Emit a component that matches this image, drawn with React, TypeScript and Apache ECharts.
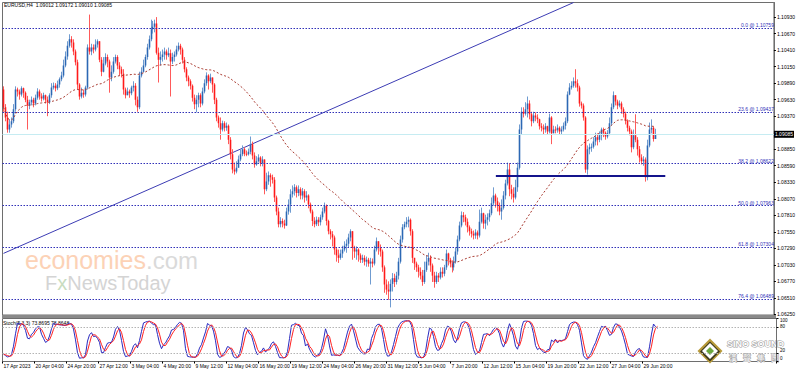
import React, { useEffect, useRef } from 'react';
import * as echarts from 'echarts';

// ---------- data (EURUSD H4) ----------
const firstOpen = 1.0979;
const closes = [
  1.0951, 1.0935, 1.0916, 1.0924, 1.0929, 1.0948, 1.0979, 1.0976, 1.0971, 1.0981,
  1.0974, 1.0963, 1.0954, 1.0959, 1.0963, 1.0957, 1.0966, 1.0976, 1.0968, 1.0965,
  1.0970, 1.0963, 1.0959, 1.0970, 1.0982, 1.0985, 1.0981, 1.0987, 1.0995, 1.1001,
  1.1017, 1.1031, 1.1048, 1.1058, 1.1053, 1.1039, 1.1022, 1.0987, 1.0968, 1.0974,
  1.0971, 1.0982, 1.1045, 1.1039, 1.1045, 1.1042, 1.1050, 1.1055, 1.1026, 1.1007,
  1.1020, 1.1030, 1.1023, 1.0998, 1.1007, 1.1023, 1.1030, 1.1017, 1.1011, 1.1004,
  1.0979, 1.0970, 1.0976, 1.0973, 1.0982, 1.0985, 1.0963, 1.0951, 1.1001, 1.1007,
  1.1017, 1.1030, 1.1045, 1.1058, 1.1074, 1.1078, 1.1083, 1.1037, 1.1026, 1.1030,
  1.1034, 1.1039, 1.1033, 1.1036, 1.1023, 1.1030, 1.1034, 1.1042, 1.1048, 1.1042,
  1.1026, 1.1011, 1.0998, 1.0992, 1.0985, 1.0966, 1.0956, 1.0963, 1.0970, 1.0957,
  1.0976, 1.0989, 1.1001, 1.0992, 1.0998, 1.0987, 1.0963, 1.0935, 1.0926, 1.0916,
  1.0926, 1.0919, 1.0922, 1.0900, 1.0877, 1.0853, 1.0850, 1.0856, 1.0869, 1.0877,
  1.0885, 1.0878, 1.0877, 1.0881, 1.0893, 1.0875, 1.0861, 1.0866, 1.0872, 1.0863,
  1.0869, 1.0822, 1.0834, 1.0844, 1.0841, 1.0837, 1.0809, 1.0787, 1.0767, 1.0772,
  1.0768, 1.0765, 1.0787, 1.0798, 1.0814, 1.0819, 1.0825, 1.0816, 1.0822, 1.0812,
  1.0819, 1.0809, 1.0812, 1.0798, 1.0787, 1.0772, 1.0767, 1.0774, 1.0770, 1.0778,
  1.0787, 1.0796, 1.0772, 1.0756, 1.0751, 1.0746, 1.0727, 1.0718, 1.0714, 1.0721,
  1.0727, 1.0733, 1.0736, 1.0746, 1.0756, 1.0730, 1.0724, 1.0727, 1.0718, 1.0711,
  1.0714, 1.0708, 1.0711, 1.0705, 1.0708, 1.0705, 1.0727, 1.0740, 1.0730, 1.0724,
  1.0699, 1.0672, 1.0664, 1.0661, 1.0673, 1.0682, 1.0676, 1.0686, 1.0708, 1.0743,
  1.0762, 1.0767, 1.0771, 1.0774, 1.0756, 1.0714, 1.0705, 1.0699, 1.0692, 1.0686,
  1.0676, 1.0695, 1.0708, 1.0714, 1.0702, 1.0686, 1.0676, 1.0686, 1.0683, 1.0692,
  1.0689, 1.0699, 1.0721, 1.0711, 1.0705, 1.0699, 1.0708, 1.0724, 1.0743, 1.0765,
  1.0781, 1.0778, 1.0771, 1.0762, 1.0756, 1.0752, 1.0749, 1.0754, 1.0749, 1.0771,
  1.0784, 1.0768, 1.0774, 1.0778, 1.0784, 1.0800, 1.0812, 1.0803, 1.0796, 1.0787,
  1.0793, 1.0812, 1.0831, 1.0853, 1.0822, 1.0815, 1.0809, 1.0825, 1.0856, 1.0916,
  1.0944, 1.0941, 1.0948, 1.0957, 1.0940, 1.0929, 1.0938, 1.0935, 1.0932, 1.0921,
  1.0919, 1.0916, 1.0921, 1.0913, 1.0935, 1.0910, 1.0916, 1.0915, 1.0919, 1.0913,
  1.0916, 1.0922, 1.0929, 1.0971, 1.0982, 1.0985, 1.0992, 1.0989, 1.0982, 1.0957,
  1.0954, 1.0935, 1.0853, 1.0885, 1.0888, 1.0889, 1.0897, 1.0904, 1.0900, 1.0907,
  1.0916, 1.0911, 1.0905, 1.0910, 1.0926, 1.0951, 1.0970, 1.0960, 1.0954, 1.0957,
  1.0948, 1.0941, 1.0930, 1.0919, 1.0913, 1.0888, 1.0907, 1.0900, 1.0885, 1.0872,
  1.0866, 1.0869, 1.0841, 1.0891, 1.0916, 1.0919, 1.09012, 1.09085,
];
const highs = [
  1.0984, 1.0956, 1.0944, 1.0932, 1.0935, 1.0956, 1.0984, 1.0982, 1.0979, 1.0984,
  1.0982, 1.0976, 1.0969, 1.0963, 1.0968, 1.0966, 1.0971, 1.0981, 1.0979, 1.0973,
  1.0974, 1.0971, 1.0968, 1.0973, 1.0989, 1.0990, 1.0989, 1.0993, 1.0998, 1.1007,
  1.1026, 1.1039, 1.1055, 1.1066, 1.1063, 1.1058, 1.1042, 1.1026, 1.0989, 1.0982,
  1.0979, 1.0985, 1.1050, 1.1097, 1.1051, 1.1050, 1.1058, 1.1058, 1.1055, 1.1030,
  1.1030, 1.1036, 1.1034, 1.1026, 1.1017, 1.1030, 1.1034, 1.1033, 1.1022, 1.1015,
  1.1011, 1.0982, 1.0982, 1.0979, 1.0985, 1.0992, 1.0989, 1.0968, 1.1007, 1.1014,
  1.1026, 1.1034, 1.1051, 1.1064, 1.1089, 1.1087, 1.1089, 1.1093, 1.1045, 1.1039,
  1.1042, 1.1045, 1.1042, 1.1045, 1.1042, 1.1037, 1.1039, 1.1048, 1.1053, 1.1051,
  1.1045, 1.1030, 1.1014, 1.1001, 1.0995, 1.0987, 1.0971, 1.0970, 1.0974, 1.0973,
  1.0982, 1.0995, 1.1006, 1.1003, 1.1004, 1.0998, 1.0989, 1.0966, 1.0938, 1.0935,
  1.0930, 1.0929, 1.0927, 1.0924, 1.0904, 1.0885, 1.0864, 1.0866, 1.0875, 1.0885,
  1.0891, 1.0888, 1.0883, 1.0886, 1.0905, 1.0897, 1.0880, 1.0874, 1.0877, 1.0874,
  1.0874, 1.0869, 1.0848, 1.0850, 1.0847, 1.0845, 1.0841, 1.0812, 1.0793, 1.0778,
  1.0776, 1.0774, 1.0793, 1.0806, 1.0822, 1.0828, 1.0830, 1.0828, 1.0828, 1.0825,
  1.0824, 1.0822, 1.0819, 1.0814, 1.0801, 1.0790, 1.0778, 1.0779, 1.0778, 1.0782,
  1.0793, 1.0801, 1.0798, 1.0774, 1.0759, 1.0756, 1.0749, 1.0730, 1.0727, 1.0727,
  1.0733, 1.0740, 1.0743, 1.0752, 1.0759, 1.0756, 1.0733, 1.0732, 1.0729, 1.0721,
  1.0719, 1.0718, 1.0716, 1.0714, 1.0714, 1.0713, 1.0733, 1.0746, 1.0740, 1.0735,
  1.0727, 1.0702, 1.0680, 1.0677, 1.0680, 1.0690, 1.0689, 1.0692, 1.0714, 1.0749,
  1.0767, 1.0771, 1.0778, 1.0779, 1.0776, 1.0759, 1.0714, 1.0708, 1.0703, 1.0699,
  1.0695, 1.0708, 1.0718, 1.0722, 1.0718, 1.0705, 1.0692, 1.0692, 1.0690, 1.0699,
  1.0699, 1.0703, 1.0727, 1.0722, 1.0714, 1.0710, 1.0716, 1.0730, 1.0749, 1.0771,
  1.0787, 1.0786, 1.0782, 1.0776, 1.0765, 1.0760, 1.0757, 1.0759, 1.0757, 1.0790,
  1.0793, 1.0785, 1.0782, 1.0784, 1.0790, 1.0809, 1.0825, 1.0815, 1.0809, 1.0801,
  1.0806, 1.0819, 1.0837, 1.0864, 1.0863, 1.0829, 1.0825, 1.0837, 1.0864, 1.0924,
  1.0951, 1.0951, 1.0959, 1.0968, 1.0962, 1.0944, 1.0944, 1.0943, 1.0940, 1.0933,
  1.0926, 1.0924, 1.0926, 1.0922, 1.0941, 1.0937, 1.0922, 1.0921, 1.0924, 1.0921,
  1.0921, 1.0927, 1.0935, 1.0976, 1.0989, 1.0992, 1.0998, 1.1011, 1.0995, 1.0985,
  1.0960, 1.0957, 1.0937, 1.0891, 1.0894, 1.0894, 1.0904, 1.0911, 1.0910, 1.0913,
  1.0919, 1.0919, 1.0913, 1.0915, 1.0935, 1.0957, 1.0976, 1.0970, 1.0963, 1.0962,
  1.0960, 1.0951, 1.0944, 1.0932, 1.0922, 1.0916, 1.0916, 1.0940, 1.0904, 1.0890,
  1.0877, 1.0874, 1.0872, 1.0900, 1.0927, 1.0932, 1.0921, 1.09172,
];
const lows = [
  1.0944, 1.0929, 1.0911, 1.0911, 1.0919, 1.0926, 1.0944, 1.0968, 1.0963, 1.0968,
  1.0966, 1.0959, 1.0916, 1.0948, 1.0954, 1.0951, 1.0954, 1.0963, 1.0963, 1.0960,
  1.0962, 1.0957, 1.0937, 1.0956, 1.0966, 1.0979, 1.0976, 1.0978, 1.0982, 1.0992,
  1.0998, 1.1014, 1.1026, 1.1045, 1.1045, 1.1033, 1.1017, 1.0979, 1.0963, 1.0965,
  1.0966, 1.0968, 1.0979, 1.1034, 1.1033, 1.1036, 1.1039, 1.1045, 1.1022, 1.1000,
  1.1006, 1.1017, 1.1014, 1.0974, 1.0992, 1.1004, 1.1020, 1.1011, 1.1001, 1.0998,
  1.0971, 1.0965, 1.0970, 1.0966, 1.0970, 1.0976, 1.0954, 1.0944, 1.0948, 1.0998,
  1.1006, 1.1014, 1.1026, 1.1042, 1.1055, 1.1067, 1.1069, 1.1034, 1.0990, 1.1017,
  1.1023, 1.1026, 1.1026, 1.1030, 1.0968, 1.1019, 1.1023, 1.1031, 1.1039, 1.1034,
  1.1020, 1.1006, 1.0992, 1.0984, 1.0979, 1.0960, 1.0948, 1.0943, 1.0951, 1.0951,
  1.0954, 1.0973, 1.0985, 1.0979, 1.0989, 1.0974, 1.0956, 1.0929, 1.0919, 1.0900,
  1.0913, 1.0913, 1.0914, 1.0893, 1.0869, 1.0847, 1.0845, 1.0847, 1.0856, 1.0866,
  1.0874, 1.0874, 1.0874, 1.0875, 1.0877, 1.0869, 1.0856, 1.0859, 1.0864, 1.0858,
  1.0858, 1.0814, 1.0819, 1.0829, 1.0826, 1.0831, 1.0802, 1.0781, 1.0762, 1.0762,
  1.0762, 1.0760, 1.0764, 1.0782, 1.0785, 1.0809, 1.0812, 1.0809, 1.0811, 1.0806,
  1.0806, 1.0801, 1.0804, 1.0792, 1.0784, 1.0764, 1.0762, 1.0764, 1.0764, 1.0765,
  1.0774, 1.0784, 1.0765, 1.0751, 1.0743, 1.0732, 1.0719, 1.0708, 1.0706, 1.0711,
  1.0714, 1.0724, 1.0722, 1.0730, 1.0740, 1.0711, 1.0714, 1.0711, 1.0708, 1.0706,
  1.0706, 1.0702, 1.0700, 1.0700, 1.0672, 1.0699, 1.0702, 1.0724, 1.0719, 1.0716,
  1.0692, 1.0659, 1.0656, 1.0648, 1.0636, 1.0661, 1.0668, 1.0672, 1.0680, 1.0705,
  1.0738, 1.0759, 1.0762, 1.0762, 1.0749, 1.0706, 1.0695, 1.0692, 1.0683, 1.0680,
  1.0670, 1.0673, 1.0692, 1.0702, 1.0692, 1.0676, 1.0667, 1.0673, 1.0676, 1.0680,
  1.0683, 1.0685, 1.0695, 1.0702, 1.0699, 1.0691, 1.0694, 1.0705, 1.0719, 1.0740,
  1.0762, 1.0770, 1.0765, 1.0754, 1.0749, 1.0746, 1.0743, 1.0744, 1.0743, 1.0746,
  1.0768, 1.0760, 1.0759, 1.0765, 1.0771, 1.0781, 1.0796, 1.0793, 1.0787, 1.0781,
  1.0774, 1.0790, 1.0806, 1.0828, 1.0811, 1.0806, 1.0801, 1.0806, 1.0818, 1.0853,
  1.0908, 1.0935, 1.0938, 1.0935, 1.0932, 1.0921, 1.0926, 1.0929, 1.0926, 1.0916,
  1.0913, 1.0908, 1.0911, 1.0908, 1.0910, 1.0893, 1.0910, 1.0910, 1.0911, 1.0908,
  1.0908, 1.0913, 1.0916, 1.0926, 1.0970, 1.0979, 1.0982, 1.0982, 1.0976, 1.0952,
  1.0949, 1.0930, 1.0848, 1.0845, 1.0877, 1.0881, 1.0886, 1.0891, 1.0891, 1.0896,
  1.0899, 1.0904, 1.0900, 1.0902, 1.0907, 1.0922, 1.0948, 1.0954, 1.0948, 1.0951,
  1.0941, 1.0935, 1.0924, 1.0913, 1.0907, 1.0880, 1.0885, 1.0896, 1.0875, 1.0864,
  1.0861, 1.0859, 1.0834, 1.0836, 1.0888, 1.0910, 1.0897, 1.0901,
];

const xTickLabels = [
  '17 Apr 2023', '20 Apr 04:00', '24 Apr 20:00', '27 Apr 12:00', '3 May 04:00',
  '4 May 20:00', '9 May 12:00', '12 May 04:00', '16 May 20:00', '19 May 12:00',
  '24 May 04:00', '26 May 20:00', '31 May 12:00', '5 Jun 04:00', '7 Jun 20:00',
  '12 Jun 12:00', '15 Jun 04:00', '19 Jun 20:00', '22 Jun 12:00', '27 Jun 04:00',
  '29 Jun 20:00',
];
const yTickValues = [
  1.0625, 1.0651, 1.0677, 1.0703, 1.0729, 1.0755, 1.0781, 1.0807, 1.0833,
  1.0859, 1.0885, 1.0937, 1.0963, 1.0989, 1.1015, 1.1041, 1.1067, 1.1093,
];
const stochTicks = [0, 20, 80, 100];
const stochLabelY = [358.5, 350.8, 326.5, 320.5];
const fibNames = ['0.0', '23.6', '38.2', '50.0', '61.8', '76.4'];
const fibValues = [1.10759, 1.09437, 1.08622, 1.07963, 1.07304, 1.06489];
const currentPrice = 1.09085;
const trendLine = [[0, 1.0721], [286, 1.1116]];
const supportLine = [[247, 1.0843], [332, 1.0843]];
const headerText = 'EURUSD,H4  1.09012 1.09172 1.09010 1.09085';
const stochText = 'Stoch(5,3,3) 73.8695 78.8648';

const LABEL_STEP = 16;
const TOTAL_SLOTS = 387;
const MA_PERIOD = 50;

const FONT = '"Liberation Sans", Arial, sans-serif';
const BULL = '#2c68b4';
const BULL_WICK = '#6f9bd0';
const BEAR = '#ff1a1a';
const BEAR_WICK = '#ff5a5a';
const FIB = '#3030b8';

function buildOption() {
  const n = closes.length;
  const opens = closes.map((_, i) => (i === 0 ? firstOpen : closes[i - 1]));
  const hi = highs.map((h, i) => Math.max(h, opens[i], closes[i]));
  const lo = lows.map((l, i) => Math.min(l, opens[i], closes[i]));
  const candles = closes.map((c, i) => [i, opens[i], c, lo[i], hi[i]]);

  const ma: number[] = [];
  for (let i = 0; i < n; i++) {
    const s = Math.max(0, i - MA_PERIOD + 1);
    let sum = 0;
    for (let j = s; j <= i; j++) sum += closes[j];
    ma.push(+(sum / (i - s + 1)).toFixed(5));
  }

  const llv: number[] = [];
  const hhv: number[] = [];
  for (let i = 0; i < n; i++) {
    let a = Infinity, b = -Infinity;
    for (let j = Math.max(0, i - 4); j <= i; j++) { a = Math.min(a, lo[j]); b = Math.max(b, hi[j]); }
    llv.push(a); hhv.push(b);
  }
  const main: number[] = [];
  for (let i = 0; i < n; i++) {
    let num = 0, den = 0;
    for (let j = Math.max(0, i - 2); j <= i; j++) { num += closes[j] - llv[j]; den += hhv[j] - llv[j]; }
    main.push(den > 0 ? (num / den) * 100 : 50);
  }
  const signal: number[] = [];
  for (let i = 0; i < n; i++) {
    const s = Math.max(0, i - 2);
    let sum = 0;
    for (let j = s; j <= i; j++) sum += main[j];
    signal.push(sum / (i - s + 1));
  }

  const cats = Array.from({ length: TOTAL_SLOTS }, (_, i) => String(i));
  const showIdx = (idx: number) => idx % LABEL_STEP === 0 && idx / LABEL_STEP < xTickLabels.length;

  const fibData: any[] = fibValues.map((v, k) => ({
    yAxis: v,
    label: { formatter: `${fibNames[k]} @ ${v.toFixed(5)}` },
  }));

  const txt = (x: number, y: number, text: string, extra: any = {}) => ({
    type: 'text', x, y, silent: true,
    style: { text, fill: '#000', fontSize: 5, fontFamily: FONT, verticalAlign: 'top', ...extra },
  });
  const diamond = (cx: number, cy: number, r: number, fill: string) => ({
    type: 'polygon', silent: true,
    shape: { points: [[cx, cy - r], [cx + r, cy], [cx, cy + r], [cx - r, cy]] },
    style: { fill },
  });

  const renderCandle = (_params: any, api: any) => {
    const i = api.value(0);
    const o = api.value(1), c = api.value(2), l = api.value(3), h = api.value(4);
    const pO = api.coord([i, o]);
    const pC = api.coord([i, c]);
    const pL = api.coord([i, l]);
    const pH = api.coord([i, h]);
    const x = Math.floor(pO[0]) + 0.5;
    const up = c >= o;
    const top = Math.min(pO[1], pC[1]);
    const bh = Math.max(1, Math.abs(pO[1] - pC[1]));
    return {
      type: 'group',
      children: [
        { type: 'line', shape: { x1: x, y1: pH[1], x2: x, y2: pL[1] }, style: { stroke: up ? BULL_WICK : BEAR_WICK, lineWidth: 1 } },
        { type: 'rect', shape: { x: x - 0.8, y: top, width: 1.6, height: bh }, style: { fill: up ? BULL : BEAR } },
      ],
    };
  };

  return {
    animation: false,
    backgroundColor: '#fff',
    grid: [
      { left: 2.5, right: 21.5, top: 2.5, height: 312.5, show: true, borderColor: '#6e6e6e', borderWidth: 1, backgroundColor: 'transparent' },
      { left: 2.5, right: 21.5, top: 318.5, height: 43, show: true, borderColor: '#6e6e6e', borderWidth: 1, backgroundColor: 'transparent' },
    ],
    xAxis: [
      {
        type: 'category', gridIndex: 0, data: cats, boundaryGap: true,
        axisLine: { show: false }, axisTick: { show: false }, axisLabel: { show: false }, splitLine: { show: false },
      },
      {
        type: 'category', gridIndex: 1, data: cats, boundaryGap: true,
        axisLine: { show: false },
        axisTick: { show: true, interval: (i: number) => showIdx(i), length: 2, lineStyle: { color: '#000' } },
        axisLabel: {
          interval: (i: number) => showIdx(i),
          formatter: (_v: string, i: number) => xTickLabels[Math.round(i / LABEL_STEP)] ?? '',
          fontSize: 5, color: '#000', fontFamily: FONT, align: 'left', margin: 2,
        },
        splitLine: { show: false },
      },
    ],
    yAxis: [
      {
        type: 'value', gridIndex: 0, position: 'right', min: 1.0624, max: 1.1116,
        splitLine: { show: false },
        axisLine: { show: true, lineStyle: { color: '#6e6e6e' } },
        axisTick: { show: true, customValues: yTickValues, length: 2, lineStyle: { color: '#000' } },
        axisLabel: { customValues: yTickValues, formatter: (v: number) => v.toFixed(5), fontSize: 5, color: '#000', fontFamily: FONT, margin: 3 },
      },
      {
        type: 'value', gridIndex: 1, position: 'right', min: 0, max: 100,
        splitLine: { show: false },
        axisLine: { show: true, lineStyle: { color: '#6e6e6e' } },
        axisTick: { show: true, customValues: stochTicks, length: 2, lineStyle: { color: '#000' } },
        axisLabel: { show: false },
      },
    ],
    series: [
      {
        type: 'line', xAxisIndex: 0, yAxisIndex: 0, data: ma, showSymbol: false, silent: true,
        lineStyle: { color: '#a8392f', width: 1, type: [2, 2] }, z: 4,
        markLine: {
          silent: true, symbol: ['none', 'none'], animation: false, precision: 5,
          lineStyle: { type: [1.5, 1.5], color: FIB, width: 1 },
          label: { show: true, position: 'insideEndTop', distance: [0, 0.5], color: FIB, fontSize: 5, fontFamily: FONT },
          data: fibData,
        },
      },
      {
        type: 'line', xAxisIndex: 0, yAxisIndex: 0, data: trendLine, showSymbol: false, silent: true,
        lineStyle: { color: '#3c3cb4', width: 1 }, z: 2,
        markLine: {
          silent: true, symbol: ['none', 'none'], animation: false, precision: 5,
          lineStyle: { type: 'solid', color: '#c6ecf2', width: 1 },
          label: {
            show: true, position: 'end', distance: 0, formatter: currentPrice.toFixed(5),
            backgroundColor: '#000', color: '#fff', fontSize: 5, fontFamily: FONT, padding: [1, 1, 1, 1],
          },
          data: [{ yAxis: currentPrice }],
        },
      },
      {
        type: 'custom', xAxisIndex: 0, yAxisIndex: 0, data: candles, renderItem: renderCandle,
        encode: { x: 0, y: [1, 2, 3, 4] }, clip: true, silent: true, z: 3,
      },
      {
        type: 'line', xAxisIndex: 0, yAxisIndex: 0, data: supportLine, showSymbol: false, silent: true,
        lineStyle: { color: '#14148c', width: 2 }, z: 5,
      },
      {
        type: 'line', xAxisIndex: 1, yAxisIndex: 1, data: main, showSymbol: false, silent: true,
        lineStyle: { color: '#2a2ac0', width: 1 },
        markLine: {
          silent: true, symbol: ['none', 'none'], label: { show: false },
          lineStyle: { type: [1.5, 1.5], color: '#b4b4b4', width: 1 },
          data: [{ yAxis: 80 }, { yAxis: 20 }],
        },
      },
      {
        type: 'line', xAxisIndex: 1, yAxisIndex: 1, data: signal, showSymbol: false, silent: true,
        lineStyle: { color: '#ff2020', width: 1 },
      },
    ],
    graphic: [
      { type: 'rect', silent: true, shape: { x: 2, y: 315, width: 774, height: 3 }, style: { fill: '#8a8a8a' } },
      txt(4, 2.5, headerText),
      txt(3, 320, stochText),
      ...stochTicks.map((v, k) => txt(780, stochLabelY[k], String(v), { fontSize: 4.5, verticalAlign: 'middle' })),
      {
        type: 'text', x: 25, y: 260, silent: true, z: 0,
        style: { text: 'economies', fill: '#fcd2b6', fontSize: 25, fontFamily: FONT, verticalAlign: 'middle' },
      },
      {
        type: 'text', x: 146, y: 260, silent: true, z: 0,
        style: { text: '.com', fill: '#dadada', fontSize: 24, fontFamily: FONT, verticalAlign: 'middle' },
      },
      {
        type: 'text', x: 45, y: 283, silent: true, z: 0,
        style: {
          text: '{a|F}{b|x}{a|NewsToday}', fontFamily: FONT, verticalAlign: 'middle',
          rich: {
            a: { fill: '#d4d4d4', fontSize: 20, fontFamily: FONT },
            b: { fill: '#c8dcc0', fontSize: 20, fontFamily: FONT },
          },
        },
      },
      diamond(710, 351, 12.5, '#b89a3a'),
      diamond(710, 351.5, 10, '#3e3a1c'),
      diamond(710, 351, 8, '#ffffff'),
      diamond(710, 351, 4, '#6aa83c'),
      {
        type: 'text', x: 727, y: 339, silent: true,
        style: { text: 'SINO SOUND', fill: '#ffffff', stroke: '#9a9a9a', lineWidth: 1, fontSize: 9, fontWeight: 'bold', fontFamily: FONT, verticalAlign: 'top' },
      },
      ...['漢', '聲', '集', '團'].map((ch, k) => ({
        type: 'text', x: 733 + k * 14, y: 357, silent: true,
        style: { text: ch, fill: '#ffffff', stroke: '#9a9a9a', lineWidth: 1, fontSize: 8, fontFamily: '"Noto Sans CJK TC", sans-serif', align: 'center', verticalAlign: 'middle' },
      })),
    ],
  };
}

export default function App() {
  const ref = useRef<HTMLDivElement>(null);
  useEffect(() => {
    if (!ref.current) return;
    const chart = echarts.init(ref.current, null, { renderer: 'svg' });
    chart.setOption(buildOption() as any);
    return () => chart.dispose();
  }, []);
  return (
    <div
      ref={ref}
      style={{ position: 'fixed', left: 0, top: 0, width: 798, height: 372, background: '#fff' }}
    />
  );
}
